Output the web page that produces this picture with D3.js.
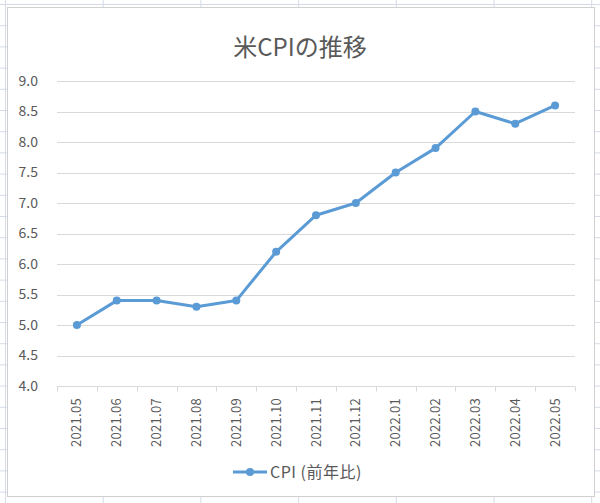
<!DOCTYPE html>
<meta charset="utf-8">
<style>
    body { margin: 0; background: #fff; }
    text { font-family: "Noto Sans CJK JP", "Noto Sans", sans-serif; fill: #595959; }
</style>
<body>
<script src="https://cdn.jsdelivr.net/npm/d3@7"></script>
<script>

var months = ["2021.05", "2021.06", "2021.07", "2021.08", "2021.09", "2021.10", "2021.11",
              "2021.12", "2022.01", "2022.02", "2022.03", "2022.04", "2022.05"];
var cpi = [5.0, 5.4, 5.4, 5.3, 5.4, 6.2, 6.8, 7.0, 7.5, 7.9, 8.5, 8.3, 8.6];
var yTicks = [4.0, 4.5, 5.0, 5.5, 6.0, 6.5, 7.0, 7.5, 8.0, 8.5, 9.0];
var title = "米CPIの推移";
var seriesName = "CPI (前年比)";

var W = 600, H = 503;
var svg = d3.select("body").append("svg")
    .attr("width", W)
    .attr("height", H);

// spreadsheet grid behind the chart
var bg = svg.append("g").attr("stroke", "#d4dbe6").attr("stroke-width", 1);
d3.range(5, W, 97.7).forEach(function(x) {
  bg.append("line").attr("x1", x + 0.5).attr("x2", x + 0.5).attr("y1", 0).attr("y2", H);
});
d3.range(4, H, 21.2).forEach(function(y) {
  bg.append("line").attr("x1", 0).attr("x2", W).attr("y1", y + 0.5).attr("y2", y + 0.5);
});

// chart area
svg.append("rect")
    .attr("x", 7.5).attr("y", 7.5)
    .attr("width", 587).attr("height", 489)
    .attr("fill", "#fff")
    .attr("stroke", "#d0d0d0");

var margin = {top: 81, left: 57, right: 575, bottom: 386};

var x = d3.scaleBand()
    .domain(months)
    .range([margin.left, margin.right]);

var y = d3.scaleLinear()
    .domain([4, 9])
    .range([margin.bottom, margin.top]);

// gridlines
svg.append("g")
    .selectAll("line")
    .data(yTicks.slice(1))
    .enter().append("line")
    .attr("x1", margin.left).attr("x2", margin.right)
    .attr("y1", function(d) { return Math.round(y(d)) + 0.5; })
    .attr("y2", function(d) { return Math.round(y(d)) + 0.5; })
    .attr("stroke", "#d9d9d9");

// y labels
svg.append("g")
    .selectAll("text")
    .data(yTicks)
    .enter().append("text")
    .attr("x", 38)
    .attr("y", function(d) { return y(d); })
    .attr("dy", "0.35em")
    .attr("text-anchor", "end")
    .style("font-size", "14px")
    .text(function(d) { return d.toFixed(1); });

// x axis
var xAxis = svg.append("g")
    .attr("transform", "translate(0," + (Math.round(y(4)) + 0.5) + ")");
xAxis.append("line")
    .attr("x1", margin.left).attr("x2", margin.right)
    .attr("stroke", "#d9d9d9");
xAxis.selectAll(".tick")
    .data(months.concat(["end"]))
    .enter().append("line")
    .attr("x1", function(d, i) { return Math.round(margin.left + i * x.bandwidth()) + 0.5; })
    .attr("x2", function(d, i) { return Math.round(margin.left + i * x.bandwidth()) + 0.5; })
    .attr("y1", 0).attr("y2", 5)
    .attr("stroke", "#d9d9d9");

svg.append("g")
    .selectAll("text")
    .data(months)
    .enter().append("text")
    .attr("transform", function(d) {
      return "translate(" + (x(d) + x.bandwidth() / 2) + "," + 398 + ") rotate(-90)";
    })
    .attr("dy", "0.35em")
    .attr("text-anchor", "end")
    .style("font-size", "13px")
    .style("letter-spacing", "0.3px")
    .text(function(d) { return d; });

// series
var color = "#5b9bd5";
var line = d3.line()
    .x(function(d, i) { return x(months[i]) + x.bandwidth() / 2; })
    .y(function(d) { return y(d); });

svg.append("path")
    .datum(cpi)
    .attr("d", line)
    .attr("fill", "none")
    .attr("stroke", color)
    .attr("stroke-width", 3)
    .attr("stroke-linejoin", "round");

svg.append("g")
    .selectAll("circle")
    .data(cpi)
    .enter().append("circle")
    .attr("cx", function(d, i) { return x(months[i]) + x.bandwidth() / 2; })
    .attr("cy", function(d) { return y(d); })
    .attr("r", 4)
    .attr("fill", color);

// title
svg.append("text")
    .attr("x", 300)
    .attr("y", 56)
    .attr("text-anchor", "middle")
    .style("font-size", "24px")
    .text(title);

// legend
var lg = svg.append("g").attr("transform", "translate(0,472)");
lg.append("line")
    .attr("x1", 233).attr("x2", 267)
    .attr("stroke", color).attr("stroke-width", 3);
lg.append("circle")
    .attr("cx", 250).attr("r", 4).attr("fill", color);
lg.append("text")
    .attr("x", 270)
    .attr("dy", "0.35em")
    .style("font-size", "16px")
    .style("letter-spacing", "0.5px")
    .text(seriesName);

</script>
</body>
